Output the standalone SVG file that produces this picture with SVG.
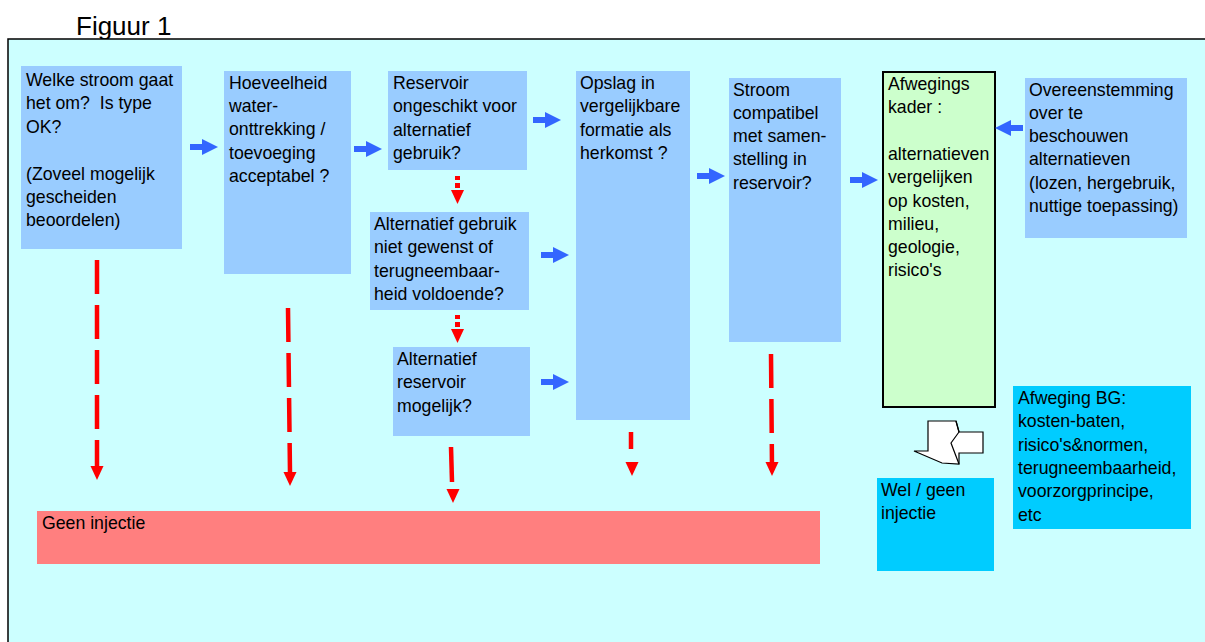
<svg xmlns="http://www.w3.org/2000/svg" width="1205" height="642" viewBox="0 0 1205 642">
<defs>
<style>
text{font-family:"Liberation Sans",Arial,sans-serif;font-size:17.7px;fill:#000}
.title{font-size:26px}
.bx{fill:#99CCFF}
.cy{fill:#00CCFF}
.ba{fill:#3366FF}
.rd{stroke:#FF0000;stroke-width:4.5;fill:none;stroke-dasharray:34 11}
.rs{stroke:#FF0000;stroke-width:4.5;fill:none}
.rh{fill:#FF0000}
</style>
<path id="barrow" d="M0,-3 H12 V-8 L28,0 L12,8 V3 H0 Z"/>
<path id="rhead" d="M-6.5,0 H6.5 L0,14 Z"/>
</defs>
<text class="title" x="76" y="35">Figuur 1</text>
<rect x="8" y="39" width="1220" height="620" fill="#CCFFFF" stroke="#000" stroke-width="1.5"/>

<g id="n1"><rect class="bx" x="21" y="66" width="161" height="183"/>
<text x="26" y="86">Welke stroom gaat</text><text x="26" y="109.4">het om?&#160; Is type</text><text x="26" y="132.8">OK?</text><text x="26" y="179.6">(Zoveel mogelijk</text><text x="26" y="203">gescheiden</text><text x="26" y="226.4">beoordelen)</text></g>

<g id="n2"><rect class="bx" x="224" y="71" width="127" height="203"/>
<text x="229" y="88.5">Hoeveelheid</text><text x="229" y="111.9">water-</text><text x="229" y="135.3">onttrekking /</text><text x="229" y="158.7">toevoeging</text><text x="229" y="182.1">acceptabel ?</text></g>

<g id="n3"><rect class="bx" x="388" y="71" width="139" height="99"/>
<text x="393" y="89">Reservoir</text><text x="393" y="112.3">ongeschikt voor</text><text x="393" y="135.6">alternatief</text><text x="393" y="158.9">gebruik?</text></g>

<g id="n4"><rect class="bx" x="370" y="212" width="159" height="98"/>
<text x="374" y="230">Alternatief gebruik</text><text x="374" y="253.3">niet gewenst of</text><text x="374" y="276.6">terugneembaar-</text><text x="374" y="299.9">heid voldoende?</text></g>

<g id="n5"><rect class="bx" x="393" y="347" width="137" height="89"/>
<text x="397" y="365">Alternatief</text><text x="397" y="388.3">reservoir</text><text x="397" y="411.6">mogelijk?</text></g>

<g id="n6"><rect class="bx" x="576" y="71" width="114" height="349"/>
<text x="580" y="89">Opslag in</text><text x="580" y="112.3">vergelijkbare</text><text x="580" y="135.6">formatie als</text><text x="580" y="158.9">herkomst ?</text></g>

<g id="n7"><rect class="bx" x="729" y="78" width="112" height="264"/>
<text x="733" y="95.5">Stroom</text><text x="733" y="118.8">compatibel</text><text x="733" y="142.1">met samen-</text><text x="733" y="165.4">stelling in</text><text x="733" y="188.7">reservoir?</text></g>

<g id="n8"><rect x="883" y="72" width="112" height="335" fill="#CCFFCC" stroke="#000" stroke-width="2"/>
<text x="888" y="90">Afwegings</text><text x="888" y="113.3">kader :</text><text x="888" y="159.9">alternatieven</text><text x="888" y="183.2">vergelijken</text><text x="888" y="206.5">op kosten,</text><text x="888" y="229.8">milieu,</text><text x="888" y="253.1">geologie,</text><text x="888" y="276.4">risico's</text></g>

<g id="n9"><rect class="bx" x="1025" y="78" width="162" height="160"/>
<text x="1029" y="95.5">Overeenstemming</text><text x="1029" y="118.8">over te</text><text x="1029" y="142.1">beschouwen</text><text x="1029" y="165.4">alternatieven</text><text x="1029" y="188.7">(lozen, hergebruik,</text><text x="1029" y="212">nuttige toepassing)</text></g>

<g id="n10"><rect class="cy" x="1013" y="386" width="178" height="143"/>
<text x="1018" y="404">Afweging BG:</text><text x="1018" y="427.3">kosten-baten,</text><text x="1018" y="450.6">risico's&amp;normen,</text><text x="1018" y="473.9">terugneembaarheid,</text><text x="1018" y="497.2">voorzorgprincipe,</text><text x="1018" y="520.5">etc</text></g>

<g id="n11"><rect class="cy" x="877" y="478" width="117" height="93"/>
<text x="881" y="496">Wel / geen</text><text x="881" y="519.3">injectie</text></g>

<g id="n12"><rect x="37" y="511" width="783" height="53" fill="#FF7F7F"/>
<text x="42" y="529">Geen injectie</text></g>

<g id="n13"><path d="M928,421 H956 L959,432 H983 V453 H959 L959,464 L942,463 L914,451 H928 Z" fill="#fff" stroke="#000" stroke-width="1.2" stroke-linejoin="miter"/>
<path d="M956,421 L959,432 L951,443 L959,464" fill="none" stroke="#000" stroke-width="1.2"/></g>

<g id="connectors">
<use href="#barrow" class="ba" x="190" y="147"/>
<use href="#barrow" class="ba" x="354" y="149"/>
<use href="#barrow" class="ba" x="533" y="120"/>
<use href="#barrow" class="ba" x="541" y="255"/>
<use href="#barrow" class="ba" x="541" y="382"/>
<use href="#barrow" class="ba" x="697" y="176"/>
<use href="#barrow" class="ba" x="850" y="180"/>
<use href="#barrow" class="ba" transform="translate(1023,128) scale(-1,1)"/>

<line class="rd" x1="97" y1="260" x2="97" y2="467"/>
<use href="#rhead" class="rh" x="97" y="466"/>
<line class="rd" x1="288" y1="308" x2="290" y2="473"/>
<use href="#rhead" class="rh" x="290" y="472"/>
<line class="rs" x1="451" y1="447" x2="452" y2="482"/>
<use href="#rhead" class="rh" x="453" y="489"/>
<line class="rs" x1="631" y1="432" x2="631" y2="449"/>
<use href="#rhead" class="rh" x="632" y="462"/>
<line class="rd" x1="771" y1="354" x2="772" y2="468"/>
<use href="#rhead" class="rh" x="772" y="462"/>

<rect class="rh" x="455" y="176" width="5" height="4"/>
<rect class="rh" x="455" y="183" width="5" height="5"/>
<use href="#rhead" class="rh" x="457.5" y="190"/>
<rect class="rh" x="455" y="315" width="5" height="4"/>
<rect class="rh" x="455" y="322" width="5" height="5"/>
<use href="#rhead" class="rh" x="457.5" y="329"/>
</g>
</svg>
